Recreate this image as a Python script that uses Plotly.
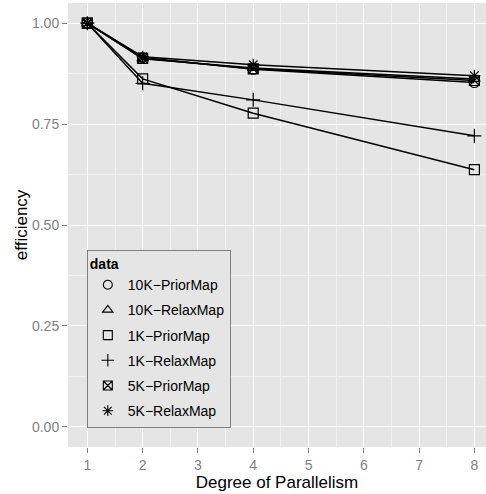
import plotly.graph_objects as go

parallelism = [1, 2, 4, 8]
series_names = ["10K\u2212PriorMap", "10K\u2212RelaxMap", "1K\u2212PriorMap", "1K\u2212RelaxMap", "5K\u2212PriorMap", "5K\u2212RelaxMap"]
eff_10k_prior = [1.0, 0.915, 0.886, 0.853]
eff_10k_relax = [1.0, 0.912, 0.889, 0.862]
eff_1k_prior = [1.0, 0.862, 0.777, 0.637]
eff_1k_relax = [1.0, 0.851, 0.810, 0.721]
eff_5k_prior = [1.0, 0.913, 0.887, 0.858]
eff_5k_relax = [1.0, 0.917, 0.897, 0.870]
values = [eff_10k_prior, eff_10k_relax, eff_1k_prior, eff_1k_relax, eff_5k_prior, eff_5k_relax]
symbols = ["circle-open", "triangle-up-open", "square-open", "cross-thin-open", "square-x-open", "asterisk-open"]

FONT = "Liberation Sans, Arial, Helvetica, sans-serif"

fig = go.Figure()
for name, vals, sym in zip(series_names, values, symbols):
    fig.add_trace(go.Scatter(
        x=parallelism, y=vals, name=name, mode="lines+markers",
        legendgroup=name, showlegend=False,
        line=dict(color="black", width=1.5),
        marker=dict(symbol=sym, size=10, color="black", line=dict(color="black", width=1.2)),
    ))
# legend entries (markers only, as in the reference key)
for name, sym in zip(series_names, symbols):
    fig.add_trace(go.Scatter(
        x=[None], y=[None], name=name, mode="markers",
        legendgroup=name, showlegend=True,
        marker=dict(symbol=sym, size=9, color="black", line=dict(color="black", width=1.1)),
    ))

fig.update_layout(
    width=486, height=494,
    margin=dict(l=68, r=0, t=3, b=47),
    paper_bgcolor="white",
    plot_bgcolor="#E5E5E5",
    font=dict(family=FONT, color="black"),
    showlegend=True,
    legend=dict(
        title=dict(text="<b>data</b>", font=dict(size=14)),
        x=0.045, y=0.043, xanchor="left", yanchor="bottom",
        bgcolor="#E5E5E5", bordercolor="#7F7F7F", borderwidth=1,
        font=dict(size=14), tracegroupgap=4, itemwidth=30,
    ),
    xaxis=dict(
        range=[0.65, 8.21], tickvals=list(range(1, 9)),
        showgrid=True, gridcolor="white", gridwidth=1.2,
        minor=dict(tickvals=[1.5, 2.5, 3.5, 4.5, 5.5, 6.5, 7.5], showgrid=True, gridcolor="#F2F2F2", gridwidth=0.6),
        ticks="outside", ticklen=5, tickcolor="#7F7F7F",
        tickfont=dict(size=14, color="#7F7F7F"),
        title=dict(text="Degree of Parallelism", font=dict(size=17), standoff=0),
        zeroline=False, showline=False,
    ),
    yaxis=dict(
        range=[-0.05, 1.05], tickvals=[0, 0.25, 0.5, 0.75, 1.0],
        ticktext=["0.00", "0.25", "0.50", "0.75", "1.00"],
        showgrid=True, gridcolor="white", gridwidth=1.2,
        minor=dict(tickvals=[0.125, 0.375, 0.625, 0.875], showgrid=True, gridcolor="#F2F2F2", gridwidth=0.6),
        ticks="outside", ticklen=5, tickcolor="#7F7F7F",
        tickfont=dict(size=14, color="#7F7F7F"),
        zeroline=False, showline=False,
    ),
    annotations=[dict(
        text="efficiency", textangle=-90, showarrow=False,
        xref="paper", yref="paper", x=-0.112, y=0.5,
        xanchor="center", yanchor="middle",
        font=dict(size=17, color="black"),
    )],
)

fig.write_html("out.html")
